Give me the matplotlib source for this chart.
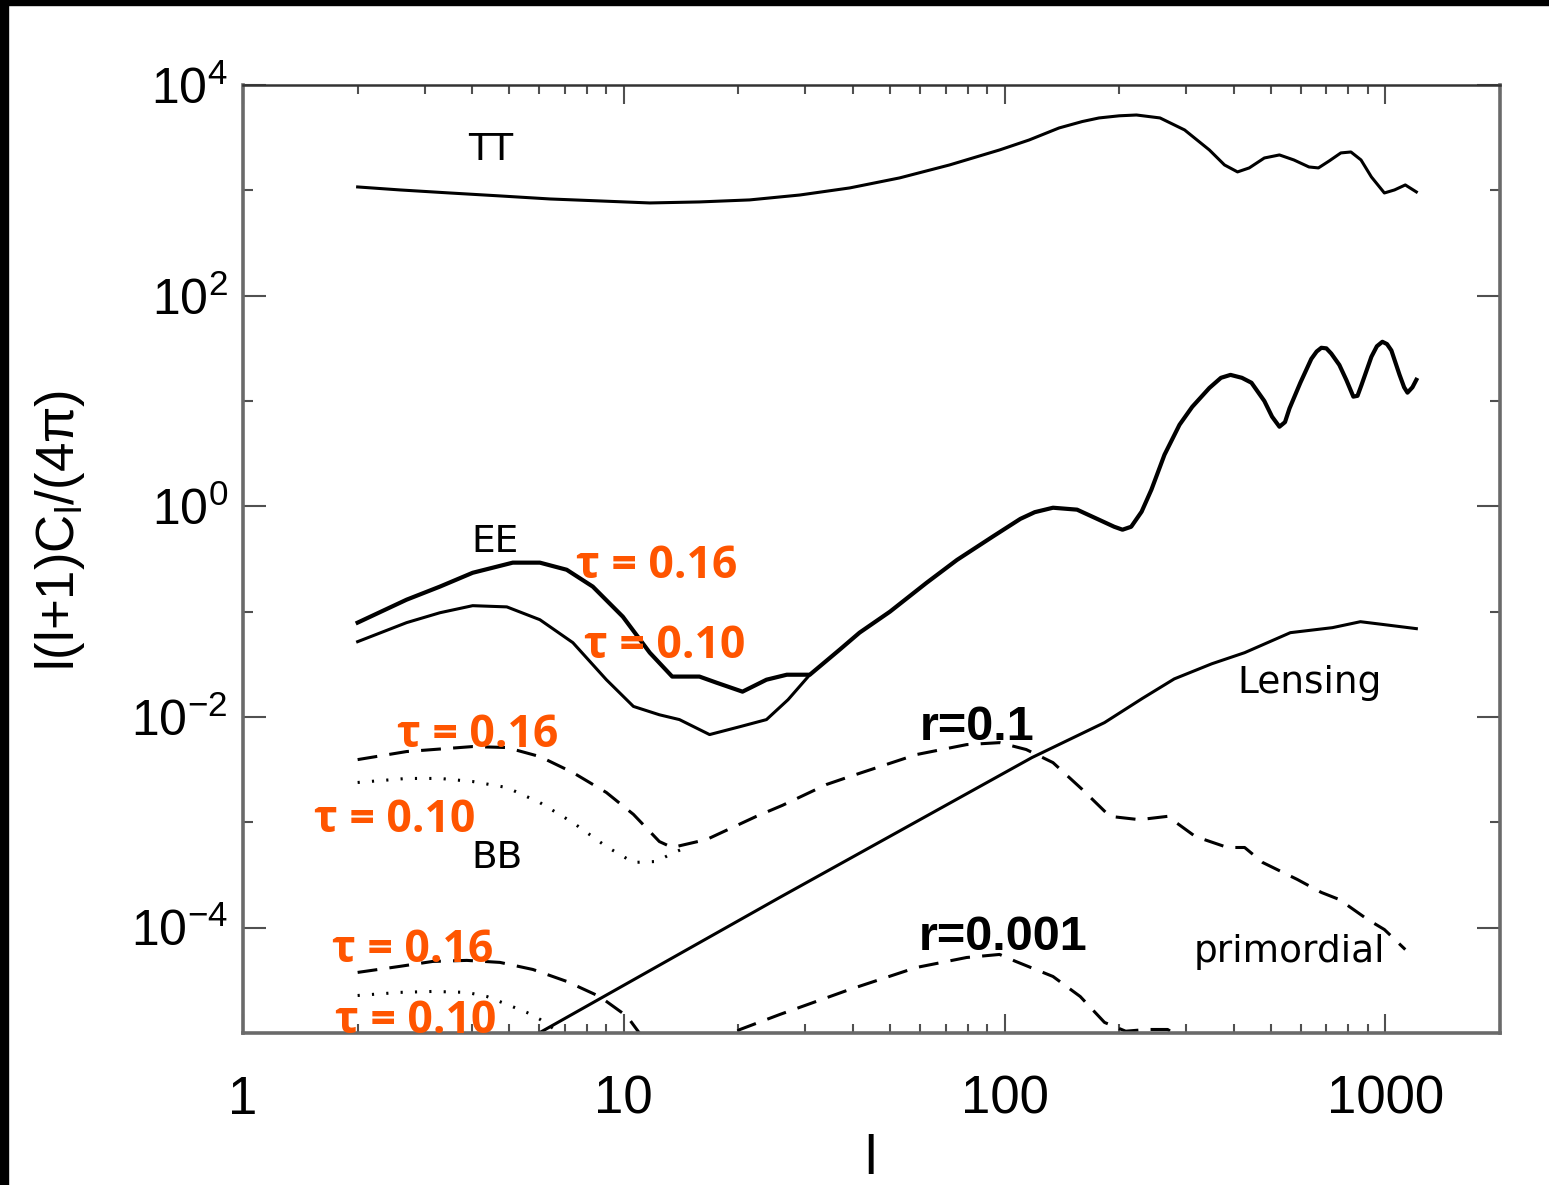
import matplotlib
matplotlib.use("Agg")
import matplotlib.pyplot as plt
import numpy as np
from matplotlib.patches import Rectangle
from matplotlib.ticker import FixedLocator, FuncFormatter, LogLocator, NullFormatter

plt.rcParams['mathtext.fontset'] = 'custom'
plt.rcParams['mathtext.rm'] = 'Liberation Sans'
plt.rcParams['mathtext.it'] = 'Liberation Sans'
plt.rcParams['font.family'] = ['Liberation Sans', 'DejaVu Sans']

# TT (same for both tau)
l_tt = [2.0, 2.58, 3.49, 4.73, 6.4, 8.65, 11.7, 15.8, 21.4, 29.0, 39.2, 53.0, 71.7, 97,
        116, 139, 160, 177, 200, 222, 256, 297, 345, 378, 409, 439, 481, 527, 575, 630,
        667, 712, 764, 812, 863, 919, 994, 1057, 1128, 1206]
tt = [1077, 1009, 944, 885, 828, 793, 759, 776, 811, 903, 1054, 1312, 1742, 2417,
      3006, 3909, 4500, 4866, 5100, 5191, 4866, 3743, 2417, 1742, 1496, 1632, 2028,
      2168, 1943, 1667, 1632, 1901, 2266, 2313, 1943, 1340, 944, 1009, 1125, 966]

# EE, tau = 0.16 (full range)
l_ee16 = [2.0, 2.69, 3.29, 4.01, 5.11, 6.02, 7.08, 8.29, 9.94, 11.7, 13.4, 15.8, 17.5,
          20.5, 23.7, 26.8, 30.8, 36.9, 41.6, 50, 62.4, 75, 93.0, 110, 120, 134, 155,
          177, 194, 204, 215, 229, 243, 263, 288, 311, 345, 370, 392, 420, 445, 481,
          504, 527, 545, 560, 598, 639, 660, 679, 700, 721, 757, 790, 824, 845, 865,
          919, 950, 982, 1010, 1037, 1089, 1120, 1143, 1178, 1206]
ee16 = [0.0787, 0.130, 0.173, 0.234, 0.292, 0.292, 0.250, 0.173, 0.0897, 0.0408, 0.0242,
        0.0242, 0.0212, 0.0174, 0.0226, 0.0252, 0.0252, 0.0436, 0.0632, 0.100, 0.188,
        0.310, 0.515, 0.76, 0.88, 0.97, 0.93, 0.746, 0.640, 0.600, 0.640, 0.889, 1.44,
        3.09, 5.95, 8.8, 13.3, 16.6, 17.7, 16.6, 14.9, 10.0, 7.1, 5.7, 6.3, 8.5, 14.9,
        25.1, 29.5, 32.0, 31.6, 28.2, 22.0, 15.8, 11.0, 11.2, 14.1, 26.3, 33.1, 36.5,
        34.7, 30.2, 17.8, 13.5, 12.0, 13.5, 15.9]

# EE, tau = 0.10 (joins the upper curve near l ~ 30)
l_ee10 = [2.0, 2.69, 3.29, 4.01, 4.93, 6.02, 7.35, 9.0, 10.6, 12.4, 14.0, 16.8, 20.2,
          23.7, 27.0, 30.8]
ee10 = [0.0519, 0.0787, 0.0977, 0.114, 0.111, 0.0839, 0.0508, 0.0226, 0.0126, 0.0105,
        0.00945, 0.00681, 0.00810, 0.00945, 0.0146, 0.0252]

# BB lensing
l_lens = [5.0, 6.02, 25.7, 118, 183, 230, 279, 350, 427, 563, 726, 860, 994, 1206]
lens = [7.0e-6, 1.01e-5, 1.94e-4, 4.12e-3, 8.85e-3, 0.0150, 0.0230, 0.0320, 0.0408,
        0.0632, 0.0705, 0.0803, 0.0753, 0.069]

# BB primordial r = 0.1
l_bb1_16 = [2.0, 2.69, 4.01, 4.93, 6.02, 7.35, 9.0, 10.6, 12.4, 13.4, 16.5, 22.3, 26.1,
            34.1, 39.2, 58.7, 79.5, 97, 114, 134, 160, 189, 226, 268, 317, 385, 427,
            476, 587, 679, 757, 897, 994, 1128]
bb1_16 = [3.94e-3, 4.70e-3, 5.24e-3, 5.13e-3, 4.21e-3, 2.97e-3, 1.92e-3, 1.19e-3,
          6.57e-4, 5.77e-4, 6.87e-4, 1.14e-3, 1.45e-3, 2.29e-3, 2.72e-3, 4.40e-3,
          5.47e-3, 5.71e-3, 4.91e-3, 3.69e-3, 2.05e-3, 1.14e-3, 1.06e-3, 1.14e-3,
          7.33e-4, 5.77e-4, 5.77e-4, 4.16e-4, 2.87e-4, 2.16e-4, 1.85e-4, 1.20e-4,
          9.6e-5, 6.2e-5]
l_bb1_10 = [2.0, 2.69, 3.29, 4.01, 4.93, 6.02, 7.35, 9.0, 10.6, 12.2, 13.2, 14.9]
bb1_10 = [2.39e-3, 2.61e-3, 2.61e-3, 2.44e-3, 2.14e-3, 1.54e-3, 9.95e-4, 5.89e-4,
          4.16e-4, 4.25e-4, 4.94e-4, 6.0e-4]

# BB primordial r = 0.001
l_bb3_16 = [2.0, 2.58, 3.15, 3.87, 4.73, 5.77, 7.08, 8.64, 10.2, 11.5, 13.4, 16.5,
            20.2, 25.7, 39.2, 58.7, 79.5, 97, 107, 134, 158, 183, 208, 236, 268, 306, 400]
bb3_16 = [3.76e-5, 4.29e-5, 4.78e-5, 4.89e-5, 4.68e-5, 4.01e-5, 3.09e-5, 2.22e-5,
          1.44e-5, 8.0e-6, 5.8e-6, 6.9e-6, 1.08e-5, 1.50e-5, 2.59e-5, 4.19e-5, 5.21e-5,
          5.57e-5, 4.78e-5, 3.44e-5, 2.22e-5, 1.26e-5, 1.04e-5, 1.08e-5, 1.08e-5,
          8.0e-6, 5.0e-6]
l_bb3_10 = [2.0, 2.58, 3.15, 3.87, 4.37, 4.93, 5.56, 6.02, 6.8, 7.7]
bb3_10 = [2.27e-5, 2.43e-5, 2.48e-5, 2.43e-5, 2.22e-5, 1.87e-5, 1.57e-5, 1.35e-5,
          1.0e-5, 8.0e-6]

y_major = [1e-4, 1e-2, 1e0, 1e2, 1e4]
y_minor = [1e-3, 1e-1, 1e1, 1e3]
x_major = [1, 10, 100, 1000]

W, H = 1549, 1185
fig = plt.figure(figsize=(W / 100, H / 100), dpi=100)
ax = fig.add_axes([243 / W, 1 - 1033 / H, (1500 - 243) / W, (1033 - 85) / H])

dash = (0, (6.5, 4))
dot = (0, (0.7, 4))
ax.plot(l_tt, tt, color='black', lw=2.2, solid_joinstyle='round')
ax.plot(l_ee16, ee16, color='black', lw=3.0, solid_joinstyle='round')
ax.plot(l_ee10, ee10, color='black', lw=2.2, solid_joinstyle='round')
ax.plot(l_lens, lens, color='black', lw=2.2, solid_joinstyle='round')
ax.plot(l_bb1_16, bb1_16, color='black', lw=2.2, ls=dash)
ax.plot(l_bb1_10, bb1_10, color='black', lw=2.2, ls=dot)
ax.plot(l_bb3_16, bb3_16, color='black', lw=2.2, ls=dash)
ax.plot(l_bb3_10, bb3_10, color='black', lw=2.2, ls=dot)

ax.set_xscale('log')
ax.set_yscale('log')
ax.set_xlim(1, 2000)
ax.set_ylim(1e-5, 1e4)

ax.xaxis.set_major_locator(FixedLocator(x_major))
ax.xaxis.set_minor_locator(LogLocator(base=10, subs=np.arange(2, 10)))
ax.xaxis.set_major_formatter(FuncFormatter(lambda v, p: '%d' % round(v)))
ax.xaxis.set_minor_formatter(NullFormatter())
ax.yaxis.set_major_locator(FixedLocator(y_major))
ax.yaxis.set_minor_locator(FixedLocator(y_minor))
ax.yaxis.set_major_formatter(FuncFormatter(
    lambda v, p: r'$\mathregular{10^{%d}}$' % round(np.log10(v))))
ax.yaxis.set_minor_formatter(NullFormatter())

gray = '#6a6a6a'
for side in ['left', 'right', 'bottom']:
    ax.spines[side].set_color(gray)
    ax.spines[side].set_linewidth(2.6)
ax.spines['top'].set_color('#333333')
ax.spines['top'].set_linewidth(1.8)

ax.tick_params(which='both', direction='in', top=True, right=True, color='#505050', width=1.5)
ax.tick_params(axis='x', which='major', length=13.5, labelsize=38, pad=30)
ax.tick_params(axis='x', which='minor', length=6.5)
ax.tick_params(axis='y', which='major', length=16.5, labelsize=36, pad=11)
ax.tick_params(axis='y', which='minor', length=7.5)

def fx(px):
    return px / W

def fy(py):
    return 1 - py / H

fig.text(fx(60), fy(530), r'l(l+1)C$_\mathregular{l}$/(4π)', rotation=90,
         ha='center', va='center', fontsize=38)
fig.text(fx(870), fy(1160), 'l', ha='center', va='center', fontsize=40)

lab = dict(family='DejaVu Sans', fontsize=27, color='black', ha='center', va='baseline')
fig.text(fx(491), fy(160), 'TT', **lab)
fig.text(fx(495), fy(552), 'EE', **lab)
fig.text(fx(497), fy(868), 'BB', **lab)
fig.text(fx(1310), fy(693), 'Lensing', **lab)
fig.text(fx(1289), fy(962), 'primordial', **lab)

tau = dict(family='Open Sans', fontweight='bold', fontsize=32, color='#FF5500',
           ha='center', va='baseline')
fig.text(fx(657), fy(578), 'τ = 0.16', **tau)
fig.text(fx(665), fy(658), 'τ = 0.10', **tau)
fig.text(fx(478), fy(747), 'τ = 0.16', **tau)
fig.text(fx(395), fy(832), 'τ = 0.10', **tau)
fig.text(fx(413), fy(962), 'τ = 0.16', **tau)
fig.text(fx(416), fy(1033), 'τ = 0.10', **tau)

rlab = dict(family='Liberation Sans', fontweight='bold', fontsize=35, color='black',
            ha='center', va='baseline')
fig.text(fx(977), fy(740), 'r=0.1', **rlab)
fig.text(fx(1003), fy(950), 'r=0.001', **rlab)

# black frame edges of the original screenshot
fig.patches.append(Rectangle((0, fy(5)), 1, 5 / H, transform=fig.transFigure,
                             color='black', zorder=10))
fig.patches.append(Rectangle((0, 0), 8 / W, 1, transform=fig.transFigure,
                             color='black', zorder=10))

fig.savefig('out.png', dpi=100)
